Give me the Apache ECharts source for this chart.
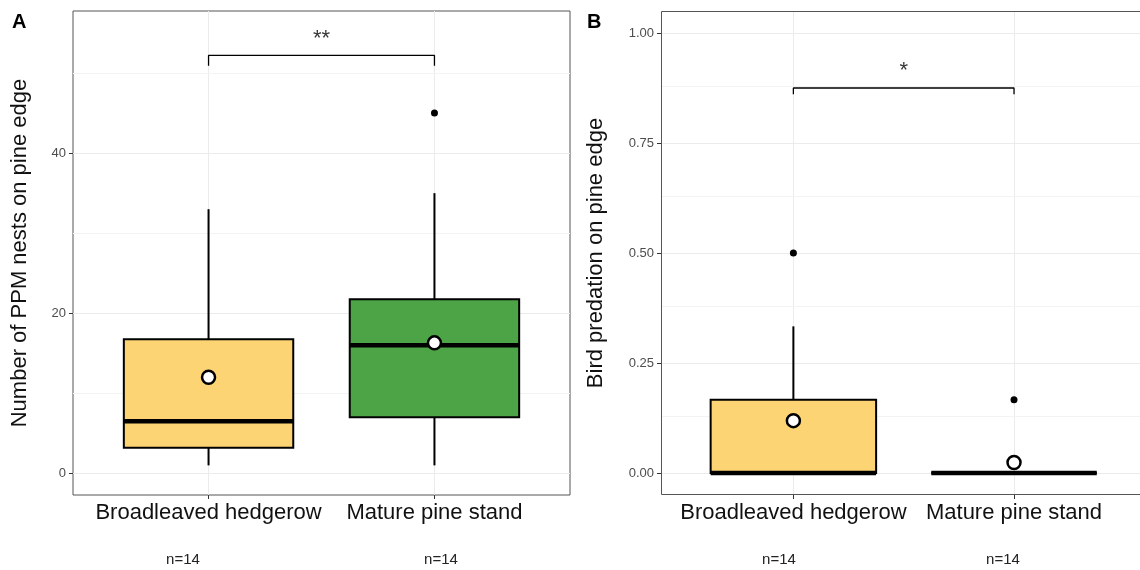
<!DOCTYPE html>
<html>
<head>
	<meta charset="utf-8" />
	<title>PPM nests and bird predation</title>
	<script type="text/javascript" src="https://cdn.jsdelivr.net/npm/echarts@6/dist/echarts.min.js"></script>
	<style>
		html, body {margin:0;padding:0;background:#fff;}
		#chart {width:1140px;height:570px;}
	</style>
</head>
<body>
	<div id="chart"></div>

	<script>
		// categories
		var categories = ['Broadleaved hedgerow', 'Mature pine stand'];
		var nLabels = ['n=14', 'n=14'];
		var fillColors = ['#FDD474', '#4CA447'];

		// panel A : [x, lowWhisker, Q1, median, Q3, highWhisker]
		var boxA = [
			[1, 1, 3.2, 6.5, 16.75, 33],
			[2, 1, 7, 16, 21.75, 35]
		];
		var meanA = [[1, 12.0], [2, 16.3]];
		var outlierA = [[2, 45]];
		var majorA = [0, 20, 40];
		var minorA = [10, 30, 50];
		var bracketA = [[1, 50.9], [1, 52.2], [2, 52.2], [2, 50.9]];
		var starsA = [[1.5, 54.2, '**']];

		// panel B
		var boxB = [
			[1, 0, 0, 0, 0.1667, 0.3333],
			[2, 0, 0, 0, 0, 0]
		];
		var meanB = [[1, 0.119], [2, 0.024]];
		var outlierB = [[1, 0.5], [2, 0.1667]];
		var majorB = [0, 0.25, 0.5, 0.75, 1];
		var minorB = [0.125, 0.375, 0.625, 0.875];
		var bracketB = [[1, 0.861], [1, 0.875], [2, 0.875], [2, 0.861]];
		var starsB = [[1.5, 0.914, '*']];

		var FONT = 'Liberation Sans, Arial, sans-serif';

		var chart = echarts.init(document.getElementById('chart'), null, {renderer: 'canvas'});

		function renderBox(params, api) {
			var x = api.value(0);
			var lo = api.coord([x, api.value(1)]);
			var q1 = api.coord([x, api.value(2)]);
			var med = api.coord([x, api.value(3)]);
			var q3 = api.coord([x, api.value(4)]);
			var hi = api.coord([x, api.value(5)]);
			var half = api.size([0.75, 0])[0] / 2;
			var cx = q1[0];
			var line = {stroke: '#000', lineWidth: 2};

			return {
				type: 'group',
				children: [
					{type: 'line', shape: {x1: cx, y1: q3[1], x2: cx, y2: hi[1]}, style: line},
					{type: 'line', shape: {x1: cx, y1: q1[1], x2: cx, y2: lo[1]}, style: line},
					{type: 'rect', shape: {x: cx - half, y: q3[1], width: half * 2, height: q1[1] - q3[1]},
						style: {fill: fillColors[params.dataIndex], stroke: '#000', lineWidth: 2}},
					{type: 'line', shape: {x1: cx - half, y1: med[1], x2: cx + half, y2: med[1]},
						style: {stroke: '#000', lineWidth: 4.5}}
				]
			};
		}

		function xAxisOf(gridIndex, max) {
			return {
				type: 'value',
				gridIndex: gridIndex,
				min: 0.4,
				max: max,
				axisLine: {show: false, onZero: false},
				axisTick: {show: true, customValues: [1, 2], length: 4, lineStyle: {color: '#333', width: 1}},
				axisLabel: {
					customValues: [1, 2],
					formatter: function(v) { return categories[Math.round(v) - 1] || ''; },
					color: '#111',
					fontSize: 22,
					fontFamily: FONT,
					margin: 7
				},
				splitLine: {show: true, lineStyle: {color: '#EBEBEB', width: 1}}
			};
		}

		function yAxisOf(gridIndex, min, max, major, name, nameGap, fmt) {
			return {
				type: 'value',
				gridIndex: gridIndex,
				min: min,
				max: max,
				name: name,
				nameLocation: 'middle',
				nameGap: nameGap,
				nameTextStyle: {fontSize: 22, color: '#111', fontFamily: FONT},
				axisLine: {show: false, onZero: false},
				axisTick: {show: true, customValues: major, length: 4, lineStyle: {color: '#333', width: 1}},
				axisLabel: {customValues: major, formatter: fmt, color: '#4D4D4D', fontSize: 13, fontFamily: FONT, margin: 7},
				splitLine: {show: true, lineStyle: {color: '#EBEBEB', width: 1}}
			};
		}

		function panelSeries(idx, minor, boxes, means, outliers, bracket, stars) {
			return [
				{
					type: 'line', xAxisIndex: idx, yAxisIndex: idx, data: [], silent: true, z: 1,
					markLine: {
						silent: true, symbol: 'none', animation: false, z: 1,
						label: {show: false},
						lineStyle: {color: '#F3F3F3', width: 1, type: 'solid'},
						data: minor.map(function(v) { return {yAxis: v}; })
					}
				},
				{type: 'custom', xAxisIndex: idx, yAxisIndex: idx, renderItem: renderBox, data: boxes, z: 3},
				{type: 'scatter', xAxisIndex: idx, yAxisIndex: idx, data: outliers, symbolSize: 7,
					itemStyle: {color: '#000', opacity: 1}, z: 4},
				{type: 'scatter', xAxisIndex: idx, yAxisIndex: idx, data: means, symbolSize: 13,
					itemStyle: {color: '#fff', borderColor: '#000', borderWidth: 2.5, opacity: 1}, z: 5},
				{type: 'line', xAxisIndex: idx, yAxisIndex: idx, data: bracket, symbol: 'none',
					lineStyle: {color: '#000', width: 1.3}, z: 4, animation: false},
				{type: 'scatter', xAxisIndex: idx, yAxisIndex: idx, data: stars, symbolSize: 0,
					label: {show: true, position: 'inside', formatter: function(p) { return p.value[2]; },
						color: '#000', fontSize: 22, fontFamily: FONT}, z: 4}
			];
		}

		var option = {
			animation: false,
			textStyle: {fontFamily: FONT},
			grid: [
				{left: 73, top: 11, width: 497, height: 484, show: true, borderColor: '#555', borderWidth: 1, backgroundColor: 'transparent'},
				{left: 661, top: 11, right: 0, height: 484, show: false}
			],
			// panel B is cut at the right edge of the picture
			xAxis: [xAxisOf(0, 2.6), xAxisOf(1, 2.571)],
			yAxis: [
				yAxisOf(0, -2.7, 57.75, majorA, 'Number of PPM nests on pine edge', 42, function(v) { return String(v); }),
				yAxisOf(1, -0.05, 1.05, majorB, 'Bird predation on pine edge', 54, function(v) { return v.toFixed(2); })
			],
			series: panelSeries(0, minorA, boxA, meanA, outlierA, bracketA, starsA)
				.concat(panelSeries(1, minorB, boxB, meanB, outlierB, bracketB, starsB)),
			graphic: [
				{type: 'rect', silent: true, z: 10, shape: {x: 661.5, y: 11.5, width: 490, height: 483},
					style: {fill: 'none', stroke: '#555', lineWidth: 1}},
				{type: 'text', left: 12, top: 12, style: {text: 'A', font: 'bold 20px ' + FONT, fill: '#000'}},
				{type: 'text', left: 587, top: 12, style: {text: 'B', font: 'bold 20px ' + FONT, fill: '#000'}},
				{type: 'text', x: 183, y: 560, style: {text: nLabels[0], font: '15px ' + FONT, fill: '#222', align: 'center', verticalAlign: 'middle'}},
				{type: 'text', x: 441, y: 560, style: {text: nLabels[1], font: '15px ' + FONT, fill: '#222', align: 'center', verticalAlign: 'middle'}},
				{type: 'text', x: 779, y: 560, style: {text: nLabels[0], font: '15px ' + FONT, fill: '#222', align: 'center', verticalAlign: 'middle'}},
				{type: 'text', x: 1003, y: 560, style: {text: nLabels[1], font: '15px ' + FONT, fill: '#222', align: 'center', verticalAlign: 'middle'}}
			]
		};

		chart.setOption(option);
	</script>
</body>
</html>
